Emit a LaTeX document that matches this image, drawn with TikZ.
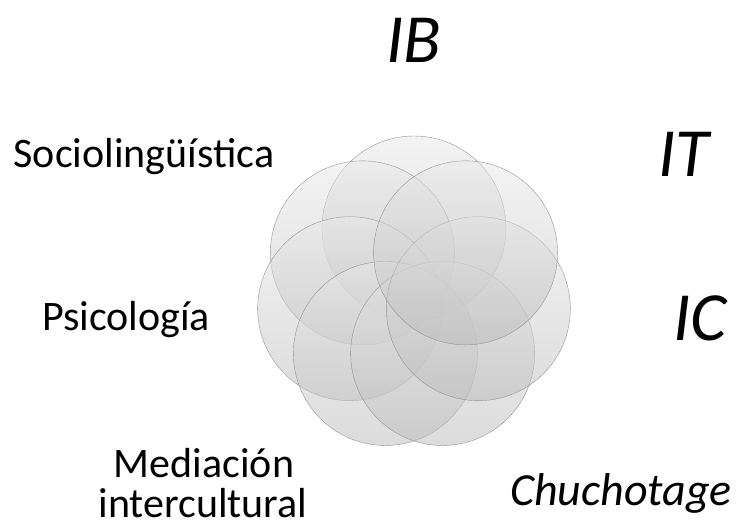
\documentclass[tikz,border=0pt]{standalone}
\usepackage{fontspec}
\setmainfont{Carlito}
\usetikzlibrary{calc}
\tikzset{
  petal/.style={
    circle,
    minimum size=184pt,
    inner sep=0pt,
    draw=gray!90, thin,
    top color=gray!18,
    bottom color=gray!55,
    fill opacity=0.5,
    draw opacity=0.9},
  biglabel/.style={font=\fontsize{69}{70}\selectfont\itshape, anchor=base, inner sep=0pt},
  label/.style={font=\fontsize{42}{40}\selectfont, anchor=base, inner sep=0pt, align=center},
}
\begin{document}
\begin{tikzpicture}[x=1pt, y=-1pt]
  \useasboundingbox (0,0) rectangle (741,528);
  \coordinate (hub) at (414,294);
  % seven overlapping circles round the hub
  \foreach \k in {0,...,6} {
    \node[petal] (petal\k) at ($(hub)+({90+\k*360/7}:66pt)$) {};
  }
  \node[biglabel] (IB) at (414,62) {IB};
  \node[biglabel] (IT) at (684,176) {IT};
  \node[biglabel] (IC) at (700,340) {IC};
  \node[label, font=\fontsize{46}{46}\selectfont\itshape] (Chuchotage) at (621,505) {Chuchotage};
  \node[label] (Mediacion) at (204,477) {Mediación};
  \node[label] (Intercultural) at (203,517) {intercultural};
  \node[label] (Psicologia) at (126,330) {Psicología};
  \node[label] (Socio) at (144,167) {Sociolingüística};
\end{tikzpicture}
\end{document}
